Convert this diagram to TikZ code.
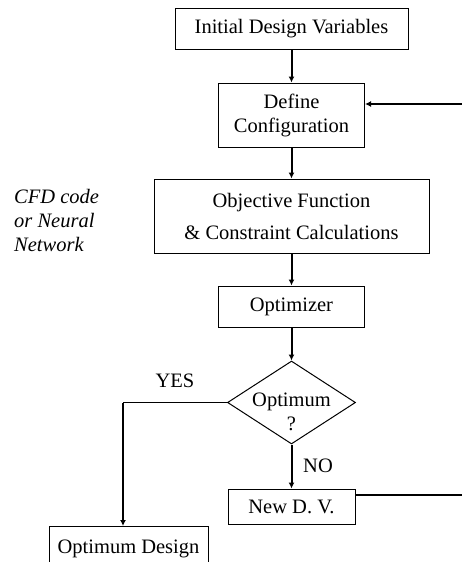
\documentclass[tikz,border=0pt]{standalone}
\usepackage{fontspec}
\setmainfont{Liberation Serif}
\usetikzlibrary{arrows.meta, positioning, shapes.geometric}

\begin{document}
\begin{tikzpicture}[
  x=1pt, y=-1pt,
  every node/.style={font=\fontsize{20.5}{24}\selectfont},
  box/.style={draw, line width=1pt, align=center, inner sep=0pt},
  dec/.style={draw, diamond, line width=1pt, inner sep=0pt, minimum width=128pt, minimum height=83pt},
  arr/.style={-{Latex[length=6pt, width=6pt]}, line width=2pt},
  ln/.style={line width=1.1pt},
  lbl/.style={inner sep=0pt}
]
\useasboundingbox (0,0) rectangle (461,562);

\node[box, minimum width=233pt, minimum height=41pt] (init) at (291.5,28.5) {Initial Design Variables};
\node[box, minimum width=146pt, minimum height=64pt, below=33pt of init] (config) {Define\\Configuration};
\node[box, minimum width=275pt, minimum height=74pt, below=31pt of config] (calc) {Objective Function\\[8pt]\& Constraint Calculations};
\node[box, minimum width=146pt, minimum height=41pt, below=32pt of calc] (optim) {Optimizer};
\node[dec, below=33pt of optim] (opt) {};
\node[lbl, align=center, yshift=-9pt] (optq) at (opt.center) {Optimum\\?};
\node[box, minimum width=127pt, minimum height=35pt, below=44pt of opt] (newdv) {New D. V.};
\node[box, minimum width=159pt, minimum height=44pt, anchor=north] (optdes) at (128.5,526) {Optimum Design};

\node[lbl, align=left, anchor=west, font=\fontsize{20.5}{24}\selectfont\itshape] (cfd) at (14,220) {CFD code\\or Neural\\Network};
\node[lbl] (yes) at (175,381) {YES};
\node[lbl] (no) at (318,466) {NO};

\coordinate (yc) at ([xshift=-104pt]opt.west);
\coordinate (fbtop) at (470,104);
\coordinate (fbbot) at (470,495);

\draw[arr] (init) -- (config);
\draw[arr] (config) -- (calc);
\draw[arr] (calc) -- (optim);
\draw[arr] (optim) -- (opt);
\draw[arr] (opt) -- (newdv);

\draw[ln] (opt.west) -- (yc);
\draw[arr] (yc) -- (yc |- optdes.north);

\draw[ln] (fbbot -| newdv.east) -- (fbbot);
\draw[ln] (fbbot) -- (fbtop);
\draw[arr] (fbtop) -- (fbtop -| config.east);

\end{tikzpicture}
\end{document}
